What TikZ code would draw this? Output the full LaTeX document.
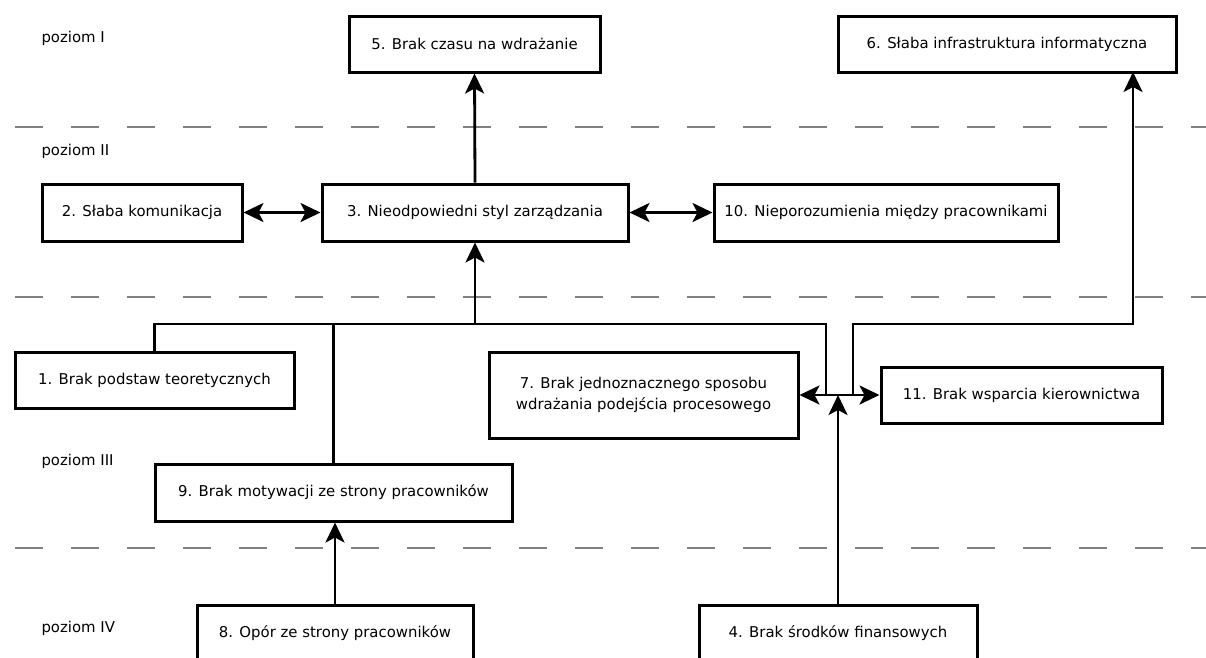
\documentclass[tikz,border=0pt]{standalone}
\usepackage{fontspec}
\setmainfont{DejaVu Sans}
\usepackage{tikz}
\usetikzlibrary{arrows.meta, positioning, calc}
\tikzstyle{arrow} = [line width=2.8pt,-{Stealth[length=20pt,width=19pt,inset=5pt]}]
\tikzstyle{dblarrow} = [line width=2.8pt,{Stealth[length=20pt,width=19pt,inset=5pt]}-{Stealth[length=20pt,width=19pt,inset=5pt]}]
\tikzstyle{link} = [line width=2.8pt,-]

\begin{document}
\begin{tikzpicture}[
    x=1pt, y=-1pt,
    cause/.style={rectangle, draw, line width=3pt, minimum height=56pt, fill=white, inner sep=0pt, align=center, font=\fontsize{14.9}{21}\selectfont},
    level/.style={anchor=west, font=\fontsize{14.9}{18}\selectfont},
    border/.style={gray, line width=2.6pt, dash pattern=on 28pt off 28pt}
]
    \useasboundingbox (0,0) rectangle (1206,657);

    \draw[border] (15,127) -- (1206,127);
    \draw[border] (15,297) -- (1206,297);
    \draw[border] (15,548) -- (1206,548);

    \node[level] (lvl1) at (38,38) {poziom I};
    \node[level] (lvl2) at (38,151) {poziom II};
    \node[level] (lvl3) at (38,461) {poziom III};
    \node[level] (lvl4) at (38,628) {poziom IV};

    \node[cause, minimum width=251pt] (c5) at (474.5,44) {5. Brak czasu na wdrażanie};
    \node[cause, minimum width=338pt] (c6) at (1007,44) {6. Słaba infrastruktura informatyczna};
    \node[cause, minimum width=200pt, minimum height=57pt] (c2) at (142,212.5) {2. Słaba komunikacja};
    \node[cause, minimum width=306pt, minimum height=57pt] (c3) at (475,212.5) {3. Nieodpowiedni styl zarządzania};
    \node[cause, minimum width=344pt, minimum height=57pt] (c10) at (886,212.5) {10. Nieporozumienia między pracownikami};
    \node[cause, minimum width=279pt] (c1) at (154.5,380) {1. Brak podstaw teoretycznych};
    \node[cause, minimum width=309pt, minimum height=86pt] (c7) at (643.5,395) {7. Brak jednoznacznego sposobu\\wdrażania podejścia procesowego};
    \node[cause, minimum width=281pt] (c11) at (1021.5,395) {11. Brak wsparcia kierownictwa};
    \node[cause, minimum width=357pt, minimum height=57pt] (c9) at (333.5,492.5) {9. Brak motywacji ze strony pracowników};
    \node[cause, minimum width=276pt, minimum height=57pt] (c8) at (335,633.5) {8. Opór ze strony pracowników};
    \node[cause, minimum width=278pt, minimum height=57pt] (c4) at (838,633.5) {4. Brak środków finansowych};

    \coordinate (bus) at (0,324);
    \coordinate (jl) at (826,395);
    \coordinate (jr) at (853,395);
    \coordinate (c6in) at (1133,72);

    \draw[arrow] (c3.north) -- (c5.south);
    \draw[dblarrow] (c2) -- (c3);
    \draw[dblarrow] (c3) -- (c10);

    \draw[link] (c1.north) |- (jl |- bus) -- (jl);
    \draw[link] (c9.north) -- (c9.north |- bus);
    \draw[arrow] (c3.south |- bus) -- (c3.south);
    \draw[arrow] (jr) -- (jr |- bus) -| (c6in);
    \draw[dblarrow] (c7) -- (c11);
    \draw[arrow] (c4.north) -- (c4.north |- c7.east);
    \draw[arrow] (c8.north) -- (c8.north |- c9.south);
\end{tikzpicture}
\end{document}
